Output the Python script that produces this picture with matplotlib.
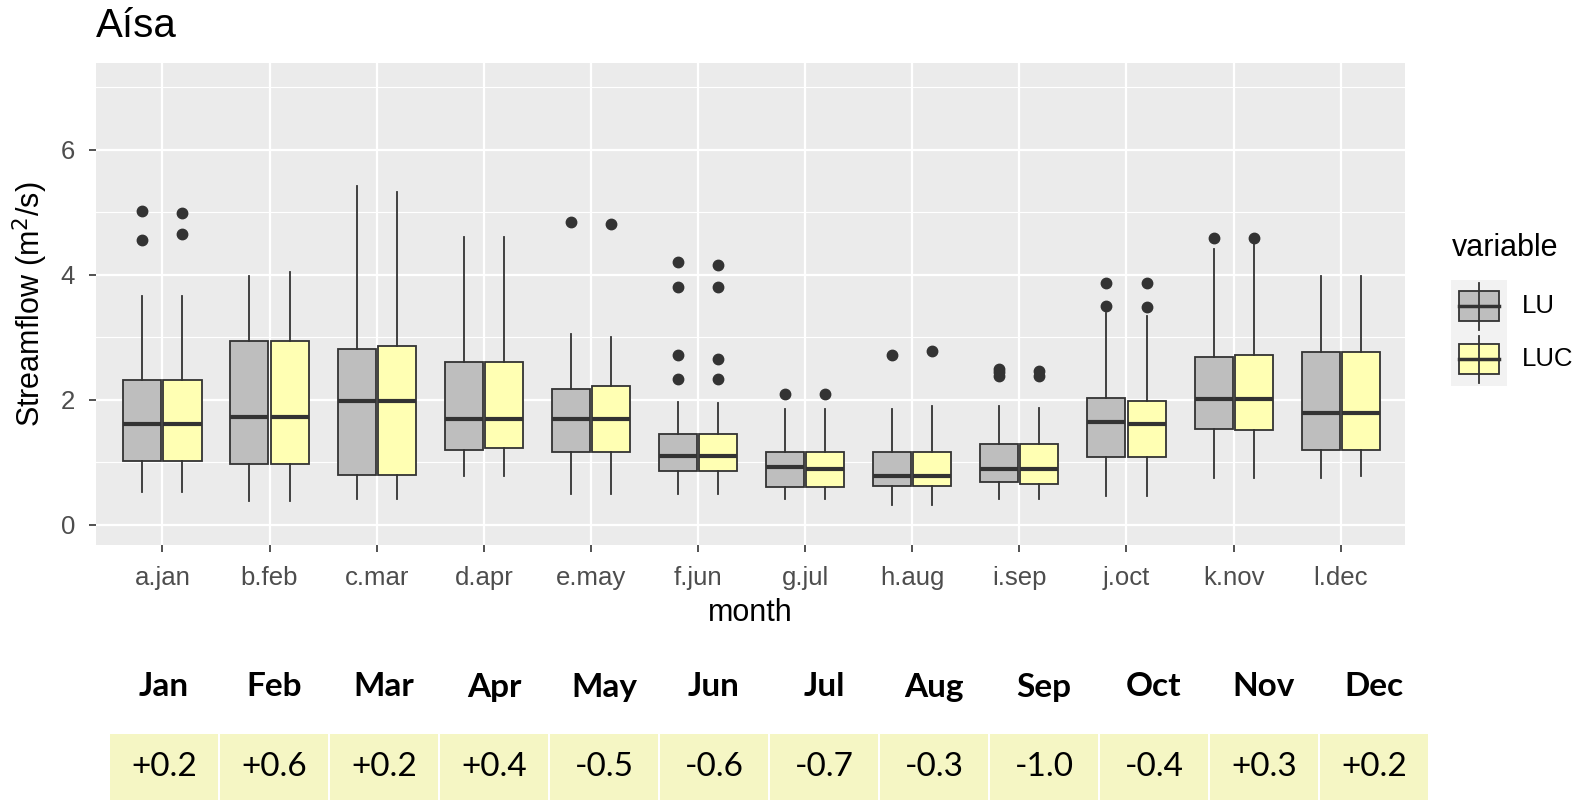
"""Monthly streamflow boxplots for Aísa, LU vs LUC, with the change table below.

Writes out.png in the working directory.
"""
import numpy as np
import matplotlib.pyplot as plt
from matplotlib.patches import Rectangle

plt.rcParams["font.family"] = ["Liberation Sans", "DejaVu Sans"]

months = ["a.jan", "b.feb", "c.mar", "d.apr", "e.may", "f.jun",
          "g.jul", "h.aug", "i.sep", "j.oct", "k.nov", "l.dec"]

# box statistics (m2/s)
lu_low  = [0.53, 0.38, 0.42, 0.78, 0.49, 0.49, 0.42, 0.32, 0.42, 0.46, 0.75, 0.75]
lu_q1   = [1.03, 0.98, 0.80, 1.20, 1.17, 0.86, 0.61, 0.62, 0.68, 1.08, 1.53, 1.20]
lu_med  = [1.62, 1.73, 1.98, 1.70, 1.70, 1.11, 0.92, 0.79, 0.89, 1.65, 2.01, 1.79]
lu_q3   = [2.32, 2.94, 2.82, 2.61, 2.17, 1.46, 1.17, 1.17, 1.30, 2.03, 2.69, 2.76]
lu_high = [3.67, 3.99, 5.42, 4.61, 3.06, 1.96, 1.85, 1.85, 1.90, 3.39, 4.42, 3.99]
lu_out  = [[4.56, 5.03], [], [], [], [4.84], [2.33, 2.72, 3.80, 4.20],
           [2.10], [2.72], [2.39, 2.44, 2.49], [3.51, 3.87], [4.59], []]

luc_low  = [0.53, 0.38, 0.42, 0.78, 0.49, 0.49, 0.42, 0.32, 0.42, 0.46, 0.75, 0.78]
luc_q1   = [1.03, 0.98, 0.80, 1.23, 1.16, 0.86, 0.61, 0.62, 0.65, 1.08, 1.52, 1.20]
luc_med  = [1.62, 1.73, 1.98, 1.70, 1.70, 1.11, 0.89, 0.79, 0.89, 1.61, 2.01, 1.79]
luc_q3   = [2.32, 2.94, 2.86, 2.61, 2.22, 1.46, 1.17, 1.17, 1.30, 1.99, 2.72, 2.76]
luc_high = [3.67, 4.04, 5.32, 4.61, 3.01, 1.95, 1.85, 1.90, 1.87, 3.35, 4.49, 3.99]
luc_out  = [[4.66, 4.99], [], [], [], [4.81], [2.33, 2.65, 3.80, 4.16],
            [2.10], [2.78], [2.39, 2.46], [3.48, 3.87], [4.59], []]

# table under the plot
table_months = ["Jan", "Feb", "Mar", "Apr", "May", "Jun",
                "Jul", "Aug", "Sep", "Oct", "Nov", "Dec"]
table_change = ["+0.2", "+0.6", "+0.2", "+0.4", "-0.5", "-0.6",
                "-0.7", "-0.3", "-1.0", "-0.4", "+0.3", "+0.2"]

LU_COL = "#BEBEBE"
LUC_COL = "#FFFFB3"
EDGE = "#333333"
W, H = 1583, 802


def stats(low, q1, med, q3, high, out):
    return [dict(whislo=a, q1=b, med=c, q3=d, whishi=e, fliers=f)
            for a, b, c, d, e, f in zip(low, q1, med, q3, high, out)]


fig = plt.figure(figsize=(W / 100, H / 100), dpi=100)
ax = fig.add_axes([96 / W, 1 - 545 / H, (1405 - 96) / W, (545 - 63) / H])
ax.set_facecolor("#EBEBEB")

x = np.arange(1, len(months) + 1)
for st, off, col in [(stats(lu_low, lu_q1, lu_med, lu_q3, lu_high, lu_out), -0.1875, LU_COL),
                     (stats(luc_low, luc_q1, luc_med, luc_q3, luc_high, luc_out), 0.1875, LUC_COL)]:
    ax.bxp(st, positions=x + off, widths=0.355, patch_artist=True, showcaps=False,
           boxprops=dict(facecolor=col, edgecolor=EDGE, linewidth=1.3),
           medianprops=dict(color=EDGE, linewidth=3),
           whiskerprops=dict(color=EDGE, linewidth=1.3),
           flierprops=dict(marker="o", markerfacecolor=EDGE, markeredgecolor=EDGE,
                           markersize=7.5),
           manage_ticks=False, zorder=3)

ax.set_xlim(0.38, 12.6)
ax.set_ylim(-0.32, 7.39)
ax.set_xticks(x)
ax.set_xticklabels(months)
ax.set_yticks([0, 2, 4, 6])
ax.set_yticks([1, 3, 5, 7], minor=True)
ax.set_xticks(x + 0.5, minor=True)
ax.grid(which="major", color="white", linewidth=1.6, zorder=0)
ax.grid(which="minor", axis="y", color="white", linewidth=0.8, zorder=0)
ax.set_axisbelow(True)
for s in ax.spines.values():
    s.set_visible(False)
ax.tick_params(which="major", length=5, width=1.2, color="#333333",
               labelsize=18.5, labelcolor="#4D4D4D")
ax.tick_params(axis="x", pad=10)
ax.tick_params(axis="y", pad=10)
ax.tick_params(which="minor", length=0)
ax.set_xlabel("month", fontsize=22, color="black", labelpad=6)
ax.set_ylabel("Streamflow (m$^2$/s)", fontsize=22, color="black", labelpad=8)
fig.text(96 / W, 1 - 26 / H, "Aísa", fontsize=29, va="center", ha="left")

# legend drawn by hand in figure pixels
fig.text(1452 / W, 1 - 248 / H, "variable", fontsize=22, va="center", ha="left")
for i, (lab, col) in enumerate([("LU", LU_COL), ("LUC", LUC_COL)]):
    top = 280 + i * 53
    fig.patches.append(Rectangle((1451 / W, 1 - (top + 53) / H), 56 / W, 53 / H,
                                 transform=fig.transFigure, facecolor="#F2F2F2",
                                 edgecolor="none"))
    cx = 1479 / W
    fig.add_artist(plt.Line2D([cx, cx], [1 - (top + 3) / H, 1 - (top + 50) / H],
                              transform=fig.transFigure, color=EDGE, lw=1.3))
    fig.patches.append(Rectangle((1459 / W, 1 - (top + 41) / H), 40 / W, 30 / H,
                                 transform=fig.transFigure, facecolor=col,
                                 edgecolor=EDGE, lw=1.3))
    fig.add_artist(plt.Line2D([1459 / W, 1499 / W], [1 - (top + 26) / H] * 2,
                              transform=fig.transFigure, color=EDGE, lw=2.5))
    fig.text(1522 / W, 1 - (top + 26) / H, lab, fontsize=18.5, va="center", ha="left",
             color="black")

# table of changes
tab = fig.add_axes([109 / W, 2 / H, 1320 / W, 140 / H])
tab.set_xlim(0, 12)
tab.set_ylim(0, 140)
tab.axis("off")
tx = np.arange(len(table_months)) + 0.5
tab.bar(tx, 66, width=0.985, bottom=0, color="#F5F6C4", edgecolor="none")
for xi, m, v in zip(tx, table_months, table_change):
    tab.text(xi, 113, m, ha="center", va="center", fontsize=24, fontweight="bold",
             family=["Lato", "DejaVu Sans"])
    tab.text(xi, 33, v, ha="center", va="center", fontsize=24,
             family=["Lato", "DejaVu Sans"])

fig.savefig("out.png", dpi=100)
